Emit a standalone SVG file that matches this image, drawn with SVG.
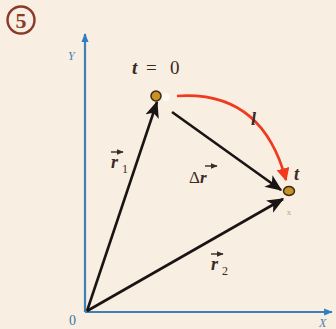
<svg xmlns="http://www.w3.org/2000/svg" width="336" height="329" viewBox="0 0 336 329">
<defs>
<marker id="ah" viewBox="0 0 12 10" refX="11" refY="5" markerWidth="6.5" markerHeight="5.5" orient="auto" markerUnits="strokeWidth"><path d="M0,0 L12,5 L0,10 L3,5 z" fill="#1a1414"/></marker>
<marker id="ahb" viewBox="0 0 10 10" refX="9" refY="5" markerWidth="4" markerHeight="4" orient="auto" markerUnits="strokeWidth"><path d="M0,1 L10,5 L0,9 z" fill="#2f7fc0"/></marker>
<marker id="ahr" viewBox="0 0 10 10" refX="9" refY="5" markerWidth="5" markerHeight="5" orient="auto" markerUnits="strokeWidth"><path d="M0,0 L10,5 L0,10 z" fill="#f03a1e"/></marker>
<marker id="va" viewBox="0 0 10 10" refX="9" refY="5" markerWidth="5" markerHeight="5" orient="auto" markerUnits="strokeWidth"><path d="M0,1 L10,5 L0,9 z" fill="#3a2a26"/></marker>
</defs>
<style>
.v{stroke:#1a1414;stroke-width:2.6;fill:none;marker-end:url(#ah)}
.ax{stroke:#3a82b8;stroke-width:2.2;fill:none;marker-end:url(#ahb)}
.t{font-family:"Liberation Serif",serif;fill:#3a2a26}
.ov{stroke:#3a2a26;stroke-width:1.4;fill:none;marker-end:url(#va)}
</style>
<rect width="336" height="329" fill="#f9eee2"/>
<g id="badge">
<circle cx="21" cy="20" r="13.5" fill="none" stroke="#8a3a28" stroke-width="2.4"/>
<text x="21" y="28" text-anchor="middle" font-family="Liberation Serif,serif" font-weight="bold" font-size="22" fill="#8a3a28">5</text>
</g>
<g id="axes">
<line class="ax" x1="85" y1="312" x2="85" y2="34"/>
<line class="ax" x1="85" y1="312" x2="332" y2="312"/>
<text x="68" y="60" font-family="Liberation Serif,serif" font-style="italic" font-size="12" fill="#4a80b0">Y</text>
<text x="319" y="327" font-family="Liberation Serif,serif" font-style="italic" font-size="12" fill="#4a80b0">X</text>
<text x="69" y="325" font-family="Liberation Serif,serif" font-size="14" fill="#3a78a8">0</text>
</g>
<g id="connectors">
<line class="v" x1="87" y1="311" x2="157" y2="102"/>
<line class="v" x1="87" y1="311" x2="283" y2="199"/>
<line class="v" x1="172" y1="112" x2="281" y2="190"/>
<path d="M177,96 Q262,90 286,180" fill="none" stroke="#f03a1e" stroke-width="2.6" marker-end="url(#ahr)"/>
</g>
<g id="pointA">
<ellipse cx="156" cy="96" rx="5" ry="5" fill="#c89028" stroke="#3a2a10" stroke-width="1.5"/>
<circle cx="166" cy="97" r="4" fill="#ffffff" opacity="0.7"/>
</g>
<g id="pointB">
<ellipse cx="289" cy="191" rx="5.5" ry="4.5" fill="#c89028" stroke="#3a2a10" stroke-width="1.5"/>
<text x="289" y="215" text-anchor="middle" font-family="Liberation Serif,serif" font-size="9" fill="#c8a070">x</text>
</g>
<g id="labels">
<text class="t" x="132" y="74" font-size="19" font-style="italic" font-weight="bold">t</text>
<text class="t" x="146" y="74" font-size="19">=</text>
<text class="t" x="170" y="74" font-size="19">0</text>
<text class="t" x="251" y="125" font-size="18" font-style="italic" font-weight="bold">l</text>
<text class="t" x="294" y="180" font-size="18" font-style="italic" font-weight="bold">t</text>
<text class="t" x="189" y="183" font-size="17">Δ<tspan font-style="italic" font-weight="bold">r</tspan></text>
<line class="ov" x1="205" y1="166" x2="217" y2="166"/>
<text class="t" x="111" y="168" font-size="18" font-style="italic" font-weight="bold">r</text>
<text class="t" x="122" y="173" font-size="12">1</text>
<line class="ov" x1="111" y1="152" x2="123" y2="152"/>
<text class="t" x="211" y="270" font-size="18" font-style="italic" font-weight="bold">r</text>
<text class="t" x="222" y="275" font-size="12">2</text>
<line class="ov" x1="211" y1="254" x2="223" y2="254"/>
</g>
</svg>
